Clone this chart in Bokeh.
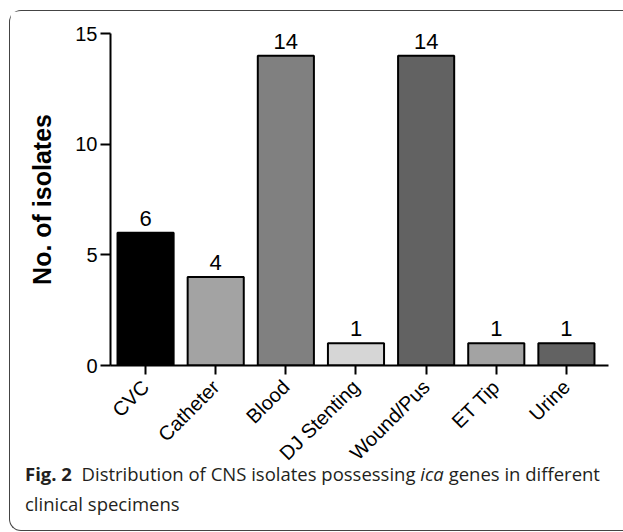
import math
from bokeh.plotting import figure
from bokeh.models import Range1d, FixedTicker, ColumnDataSource, Div
from bokeh.layouts import column
from bokeh.core.properties import value
from bokeh.embed import file_html
from bokeh.resources import INLINE

categories = ["CVC", "Catheter", "Blood", "DJ Stenting", "Wound/Pus", "ET Tip", "Urine"]
counts = [6, 4, 14, 1, 14, 1, 1]
bar_colors = ["#000000", "#a3a3a3", "#808080", "#d6d6d6", "#626262", "#a3a3a3", "#626262"]
y_ticks = [0, 5, 10, 15]
caption_label = "Fig. 2"
caption_text = "Distribution of CNS isolates possessing"
caption_italic = "ica"
caption_rest = "genes in different"
caption_line2 = "clinical specimens"

AX_FONT = "Liberation Sans"
CAP_FONT = "Open Sans"

p = figure(frame_width=498, frame_height=332, output_backend="svg", toolbar_location=None,
           x_range=Range1d(-0.5, 6.6), y_range=Range1d(0, 15))
p.min_border_left = 100
p.min_border_right = 14
p.min_border_top = 22
p.min_border_bottom = 118
p.outline_line_color = None
p.xgrid.visible = False
p.ygrid.visible = False
p.background_fill_color = "white"
p.border_fill_color = "white"

xs = list(range(len(categories)))
src = ColumnDataSource(dict(x=xs, top=counts, color=bar_colors,
                            label=[str(c) for c in counts]))
p.vbar(x="x", top="top", bottom=0, width=0.8, source=src, fill_color="color",
       line_color="black", line_width=2)
p.text(x="x", y="top", text="label", source=src, text_align="center",
       text_baseline="bottom", y_offset=-7, text_font=value(AX_FONT),
       text_font_size="22px", text_color="black")

# axes
xa = p.xaxis[0]
xa.ticker = FixedTicker(ticks=xs)
xa.major_label_overrides = {i: c for i, c in enumerate(categories)}
xa.major_label_orientation = math.pi / 4
xa.major_label_text_font = AX_FONT
xa.major_label_text_font_size = "20px"
xa.major_label_text_color = "black"
xa.major_tick_out = 9
xa.major_tick_in = 0
xa.minor_tick_line_color = None
xa.axis_line_width = 2
xa.major_tick_line_width = 2
xa.axis_line_color = "black"
xa.major_tick_line_color = "black"
xa.major_label_standoff = 9

ya = p.yaxis[0]
ya.ticker = FixedTicker(ticks=y_ticks)
ya.major_label_text_font = AX_FONT
ya.major_label_text_font_size = "20px"
ya.major_label_text_color = "black"
ya.major_tick_out = 10
ya.major_tick_in = 0
ya.minor_tick_line_color = None
ya.axis_line_width = 2
ya.major_tick_line_width = 2
ya.axis_line_color = "black"
ya.major_tick_line_color = "black"
ya.major_label_standoff = 3
ya.axis_label = "No. of isolates"
ya.axis_label_text_font = AX_FONT
ya.axis_label_text_font_style = "bold"
ya.axis_label_text_font_size = "25px"
ya.axis_label_text_color = "black"
ya.axis_label_standoff = 16

caption_html = (
    f'<b>{caption_label}</b>&nbsp; {caption_text} <i>{caption_italic}</i> '
    f'{caption_rest}<br>{caption_line2}'
)
cap = Div(text=caption_html, width=598, height=71, margin=(-24, 0, 0, 15),
          styles={"font-family": "'Open Sans', sans-serif", "font-size": "18.5px",
                  "line-height": "30px", "color": "#231f20",
                  "white-space": "nowrap"})

layout = column(p, cap, margin=(10, 0, 0, 9),
                styles={"border-top": "1.5px solid #444444",
                        "border-left": "1.5px solid #444444",
                        "border-bottom": "1.5px solid #444444",
                        "border-radius": "12px 0 0 12px",
                        "background": "white"})

open("out.html", "w").write(file_html(layout, INLINE))
